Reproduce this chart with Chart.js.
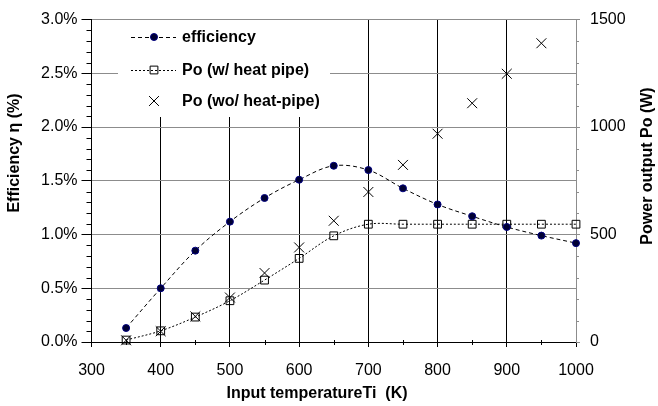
<!DOCTYPE html>
<html>
<head>
<meta charset="utf-8">
<script src="https://cdn.jsdelivr.net/npm/chart.js@4.4.0/dist/chart.umd.min.js"></script>
<style>
  html, body { margin: 0; padding: 0; background: #fff; }
</style>
</head>
<body>
<canvas id="chart" width="658" height="406"></canvas>
<script>
// data
const temps = [350, 400, 450, 500, 550, 600, 650, 700, 750, 800, 850, 900, 950, 1000];
const efficiency = [0.13, 0.50, 0.85, 1.12, 1.34, 1.51, 1.64, 1.60, 1.43, 1.28, 1.17, 1.07, 0.99, 0.92];
const poHeatPipe = [9, 52, 116, 192, 288, 389, 494, 548, 548, 548, 548, 548, 548, 548];
const poNoHeatPipe = [8, 50, 119, 207, 321, 440, 564, 698, 824, 969, 1111, 1248, 1390, null];

const xTicks = [300, 400, 500, 600, 700, 800, 900, 1000];
const effTicks = [0, 0.5, 1.0, 1.5, 2.0, 2.5, 3.0];
const powerTicks = [0, 500, 1000, 1500];
const seriesNames = ['efficiency', 'Po (w/ heat pipe)', 'Po (wo/ heat-pipe)'];
const xTitle = 'Input temperatureTi  (K)';
const leftTitle = 'Efficiency \u03b7 (%)';
const rightTitle = 'Power output Po (W)';

const FONT = '"Liberation Sans", Arial, sans-serif';
const GRAY = '#8c8c8c';

const pts = (ys) => temps.map((t, i) => ({ x: t, y: ys[i] }));

// minor tick marks, axis titles and the boxed legend
const extras = {
  id: 'extras',
  afterDraw(chart) {
    const ctx = chart.ctx;
    const a = chart.chartArea;
    const x = chart.scales.x, yl = chart.scales.y, yr = chart.scales.y2;
    ctx.save();
    ctx.lineWidth = 1;
    ctx.strokeStyle = '#000';
    ctx.beginPath();
    for (let v = 350; v < 1000; v += 100) {
      const px = Math.round(x.getPixelForValue(v)) + 0.5;
      ctx.moveTo(px, a.bottom - 2); ctx.lineTo(px, a.bottom + 3);
    }
    for (let v = 1; v < 30; v++) {
      if (v % 5 === 0) continue;
      const py = Math.round(yl.getPixelForValue(v / 10)) + 0.5;
      ctx.moveTo(a.left - 5, py); ctx.lineTo(a.left, py);
    }
    ctx.stroke();
    ctx.strokeStyle = GRAY;
    ctx.beginPath();
    for (let v = 100; v < 1500; v += 100) {
      if (v % 500 === 0) continue;
      const py = Math.round(yr.getPixelForValue(v)) + 0.5;
      ctx.moveTo(a.right, py); ctx.lineTo(a.right + 3, py);
    }
    ctx.stroke();

    ctx.fillStyle = '#000';
    ctx.font = 'bold 16px ' + FONT;
    ctx.textAlign = 'center';
    ctx.textBaseline = 'middle';
    ctx.fillText(xTitle, 317, 394);
    ctx.save();
    ctx.translate(15, 153);
    ctx.rotate(-Math.PI / 2);
    ctx.fillText(leftTitle, 0, 0);
    ctx.restore();
    ctx.save();
    ctx.translate(648, 166);
    ctx.rotate(-Math.PI / 2);
    ctx.fillText(rightTitle, 0, 0);
    ctx.restore();

    // legend box
    ctx.fillStyle = '#fff';
    ctx.fillRect(118, 20, 212, 97);
    const rows = [37, 70, 101];
    const ds = chart.data.datasets;
    ctx.textAlign = 'left';
    rows.forEach((ry, i) => {
      const d = ds[i];
      if (d.showLine !== false) {
        ctx.save();
        ctx.strokeStyle = '#000';
        ctx.setLineDash(d.borderDash);
        ctx.beginPath();
        ctx.moveTo(131, ry + 0.5); ctx.lineTo(176, ry + 0.5);
        ctx.stroke();
        ctx.restore();
      }
      ctx.save();
      ctx.fillStyle = d.pointBackgroundColor || 'rgba(0,0,0,0)';
      ctx.strokeStyle = d.pointBorderColor;
      ctx.lineWidth = 1;
      Chart.helpers.drawPoint(ctx, {
        pointStyle: d.pointStyle, radius: d.pointRadius, rotation: 0, borderWidth: 1
      }, 154, ry);
      ctx.restore();
      ctx.fillStyle = '#000';
      ctx.fillText(seriesNames[i], 182, ry + 1);
    });
    ctx.restore();
  }
};

new Chart(document.getElementById('chart'), {
  type: 'line',
  data: {
    datasets: [
      {
        label: seriesNames[0],
        data: pts(efficiency),
        yAxisID: 'y',
        borderColor: '#000',
        borderWidth: 1,
        borderDash: [4, 3],
        tension: 0.35,
        pointStyle: 'circle',
        pointRadius: 3.5,
        pointBackgroundColor: '#000033',
        pointBorderColor: '#000080',
        pointBorderWidth: 1,
        clip: false
      },
      {
        label: seriesNames[1],
        data: pts(poHeatPipe),
        yAxisID: 'y2',
        borderColor: '#000',
        borderWidth: 1,
        borderDash: [2, 2],
        tension: 0.35,
        pointStyle: 'rect',
        pointRadius: 5.5,
        pointBackgroundColor: 'rgba(0,0,0,0)',
        pointBorderColor: '#000',
        pointBorderWidth: 1,
        clip: false
      },
      {
        label: seriesNames[2],
        data: pts(poNoHeatPipe),
        yAxisID: 'y2',
        showLine: false,
        borderColor: '#000',
        borderWidth: 1,
        pointStyle: 'crossRot',
        pointRadius: 7,
        pointBorderColor: '#000',
        pointBorderWidth: 1,
        clip: false
      }
    ]
  },
  options: {
    responsive: false,
    animation: false,
    devicePixelRatio: 1,
    layout: { padding: { top: 14, left: 0, right: 0, bottom: 0 } },
    plugins: { legend: { display: false }, tooltip: { enabled: false } },
    scales: {
      x: {
        type: 'linear',
        min: 300, max: 1000,
        afterBuildTicks: (s) => { s.ticks = xTicks.map(v => ({ value: v })); },
        afterFit: (s) => { s.height = 64; },
        grid: {
          color: (c) => (c.tick && c.tick.value === 1000 ? GRAY : '#000'),
          tickColor: '#000',
          tickLength: 5,
          lineWidth: 1
        },
        border: { color: '#000' },
        ticks: {
          color: '#000', font: { family: FONT, size: 16 }, padding: 14, maxRotation: 0,
          callback: (v) => String(v)
        }
      },
      y: {
        position: 'left',
        min: 0, max: 3.0,
        afterBuildTicks: (s) => { s.ticks = effTicks.map(v => ({ value: v })); },
        afterFit: (s) => { s.width = 91.5; },
        grid: { color: GRAY, tickColor: '#000', tickLength: 10, lineWidth: 1 },
        border: { color: '#000' },
        ticks: {
          color: '#000', font: { family: FONT, size: 16 }, padding: 4,
          callback: (v) => v.toFixed(1) + '%'
        }
      },
      y2: {
        position: 'right',
        min: 0, max: 1500,
        afterBuildTicks: (s) => { s.ticks = powerTicks.map(v => ({ value: v })); },
        afterFit: (s) => { s.width = 82; },
        grid: { drawOnChartArea: false, color: GRAY, tickColor: GRAY, tickLength: 4 },
        border: { color: GRAY },
        ticks: {
          color: '#000', font: { family: FONT, size: 16 }, padding: 10,
          callback: (v) => String(v)
        }
      }
    }
  },
  plugins: [extras]
});
</script>
</body>
</html>
